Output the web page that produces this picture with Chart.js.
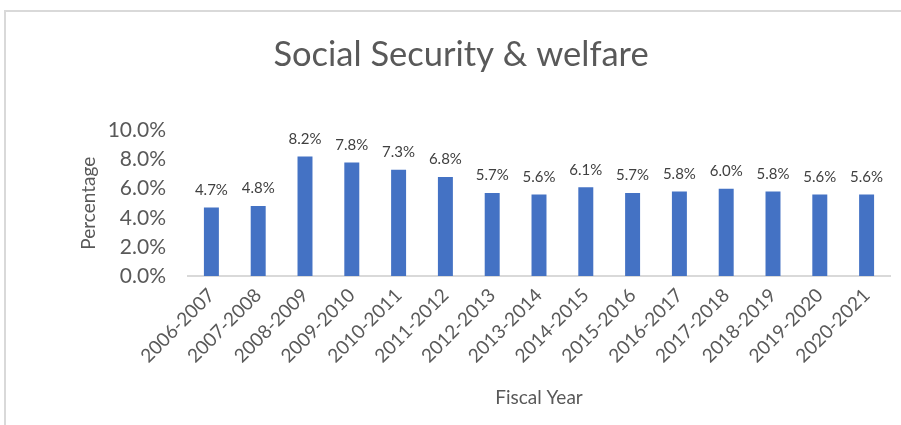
<!DOCTYPE html>
<html>
<head>
<meta charset="utf-8">
<script src="https://cdn.jsdelivr.net/npm/chart.js@4.4.0/dist/chart.umd.min.js"></script>
<style>
  html, body { margin: 0; padding: 0; background: #fff; }
  #caja { position: relative; width: 901px; height: 425px; overflow: hidden; }
  #marco {
    position: absolute; left: 4px; top: 10px; width: 900px; height: 420px;
    border-top: 2px solid #d9d9d9; border-left: 2px solid #d9d9d9;
    pointer-events: none;
  }
  canvas { position: absolute; left: 0; top: 0; }
</style>
</head>
<body>
<div id="caja">
  <canvas id="grafica" width="901" height="425"></canvas>
  <div id="marco"></div>
</div>
<script>
const anios = ['2006-2007', '2007-2008', '2008-2009', '2009-2010', '2010-2011',
  '2011-2012', '2012-2013', '2013-2014', '2014-2015', '2015-2016',
  '2016-2017', '2017-2018', '2018-2019', '2019-2020', '2020-2021'];
const porcentajes = [4.7, 4.8, 8.2, 7.8, 7.3, 6.8, 5.7, 5.6, 6.1, 5.7, 5.8, 6.0, 5.8, 5.6, 5.6];
const ticksY = [0, 2, 4, 6, 8, 10];

const fuente = 'Lato, "Open Sans", sans-serif';
const gris = '#595959';

// etiquetas de valor sobre cada barra
const etiquetas = {
  id: 'etiquetas',
  afterDatasetsDraw(chart) {
    const ctx = chart.ctx;
    const meta = chart.getDatasetMeta(0);
    ctx.save();
    ctx.font = '15px ' + fuente;
    ctx.fillStyle = '#404040';
    ctx.textAlign = 'center';
    ctx.textBaseline = 'bottom';
    meta.data.forEach(function (barra, i) {
      ctx.fillText(porcentajes[i].toFixed(1) + '%', barra.x, barra.y - 10);
    });
    ctx.restore();
  }
};

new Chart(document.getElementById('grafica'), {
  type: 'bar',
  data: {
    labels: anios,
    datasets: [{
      data: porcentajes,
      backgroundColor: '#4472C4',
      borderWidth: 0,
      categoryPercentage: 1,
      barPercentage: 0.32
    }]
  },
  options: {
    responsive: false,
    animation: false,
    layout: { padding: { left: 32, right: 11, top: 11, bottom: 16 } },
    plugins: {
      legend: { display: false },
      tooltip: { enabled: false },
      title: {
        display: true,
        text: 'Social Security & welfare',
        color: gris,
        font: { family: fuente, size: 34.5, weight: 'normal' },
        padding: { top: 23, bottom: 55 }
      }
    },
    scales: {
      y: {
        min: 0,
        max: 10,
        afterBuildTicks(scale) {
          scale.ticks = ticksY.map(v => ({ value: v }));
        },
        afterFit(scale) { scale.width = 156; },
        grid: { display: false, drawTicks: false },
        border: { display: false },
        ticks: {
          color: gris,
          padding: 22,
          font: { family: fuente, size: 21 },
          callback: v => v.toFixed(1) + '%'
        },
        title: {
          display: true,
          text: 'Percentage',
          color: gris,
          font: { family: fuente, size: 19 },
          padding: { top: 45, bottom: 0 }
        }
      },
      x: {
        afterFit(scale) { scale.height = 133; },
        grid: { display: false, drawTicks: false },
        border: { display: true, color: '#d9d9d9', width: 2 },
        ticks: {
          color: gris,
          padding: 8,
          minRotation: 45,
          maxRotation: 45,
          font: { family: fuente, size: 19 }
        },
        title: {
          display: true,
          text: 'Fiscal Year',
          color: gris,
          font: { family: fuente, size: 19 },
          padding: 0
        }
      }
    }
  },
  plugins: [etiquetas]
});
</script>
</body>
</html>
